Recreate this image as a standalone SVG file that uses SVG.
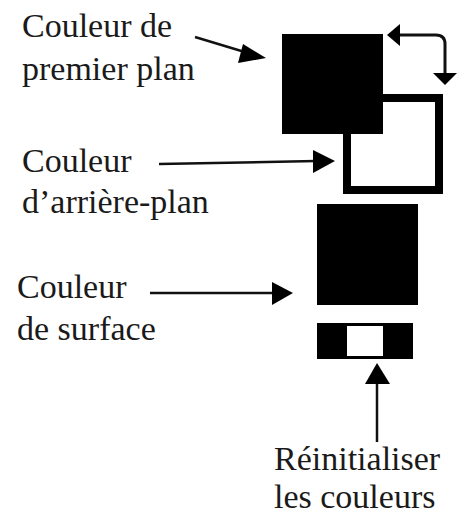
<svg xmlns="http://www.w3.org/2000/svg" width="466" height="516" viewBox="0 0 466 516">
<style>
.t{font-family:"Liberation Serif","DejaVu Serif",serif;font-size:34px;fill:#1a1a1a}
.c{stroke:#111;stroke-width:2.5;fill:none}
.h{fill:#000}
</style>
<rect width="466" height="516" fill="#fff"/>
<g id="background">
<rect x="347" y="98" width="92" height="92" fill="#fff" stroke="#000" stroke-width="8"/>
</g>
<g id="foreground">
<rect x="282" y="34" width="101" height="100" fill="#000"/>
</g>
<g id="surface">
<rect x="317" y="204" width="101" height="101" fill="#000"/>
</g>
<g id="reset">
<rect x="317" y="323" width="96" height="36" fill="#000"/>
<rect x="347" y="326" width="36" height="30" fill="#fff"/>
</g>
<g id="labels">
<text class="t" x="22" y="37">Couleur de</text>
<text class="t" x="22" y="80">premier plan</text>
<text class="t" x="22" y="172">Couleur</text>
<text class="t" x="22" y="213">d’arrière-plan</text>
<text class="t" x="17" y="298">Couleur</text>
<text class="t" x="17" y="340">de surface</text>
<text class="t" x="274" y="470">Réinitialiser</text>
<text class="t" x="274" y="508">les couleurs</text>
</g>
<g id="connectors">
<line class="c" x1="195" y1="37" x2="248" y2="53"/>
<polygon class="h" points="266,58 243,44 238,63"/>
<line class="c" x1="159" y1="164" x2="316" y2="161"/>
<polygon class="h" points="335,161 313,150 313,173"/>
<line class="c" x1="150" y1="293" x2="274" y2="293"/>
<polygon class="h" points="293,293 272,282 272,305"/>
<line class="c" x1="377" y1="382" x2="377" y2="442"/>
<polygon class="h" points="377,363 365,384 390,384"/>
<path d="M399,35 H436 Q445,35 445,44 V74" stroke="#111" stroke-width="3" fill="none"/>
<polygon class="h" points="387,35 400,24 400,46"/>
<polygon class="h" points="445,85 433,73 457,73"/>
</g>
</svg>
